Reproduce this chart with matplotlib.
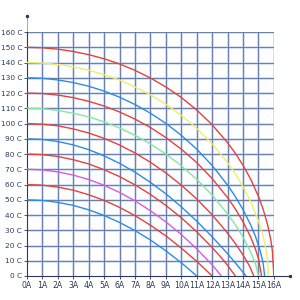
import matplotlib
matplotlib.use('Agg')
import matplotlib.pyplot as plt

# ---- data (current in A, temperature in C) ----
x_ticks = list(range(0, 17))
x_labels = [f"{v}A" for v in x_ticks]
y_ticks = list(range(0, 161, 10))
y_labels = [f"{v} C" for v in y_ticks]

cur_50 = [0, 1, 2, 3, 4, 5, 6, 7, 8, 9, 10, 11]
tmp_50 = [50, 49.6, 48.3, 46.3, 43.4, 39.7, 35.1, 29.8, 23.6, 16.5, 8.7, 0]

cur_60 = [0, 1, 2, 3, 4, 5, 6, 7, 8, 9, 10, 11, 12]
tmp_60 = [60, 59.6, 58.3, 56.3, 53.3, 49.6, 45.0, 39.6, 33.3, 26.3, 18.3, 9.6, 0]

cur_70 = [0, 1, 2, 3, 4, 5, 6, 7, 8, 9, 10, 11, 12, 12.6]
tmp_70 = [70, 69.6, 68.3, 66.2, 63.3, 59.5, 54.8, 49.3, 42.8, 35.5, 27.2, 17.8, 7.3, 0]

cur_80 = [0, 1, 2, 3, 4, 5, 6, 7, 8, 9, 10, 11, 12, 12.5, 13, 13.5]
tmp_80 = [80, 79.6, 78.4, 76.3, 73.5, 69.7, 65.2, 59.8, 53.5, 46.3, 38.2, 29.0, 18.7, 13.1, 7.0, 0]

cur_90 = [0, 1, 2, 3, 4, 5, 6, 7, 8, 9, 10, 11, 12, 13, 13.6, 14.2]
tmp_90 = [90, 89.6, 88.2, 86.0, 82.9, 78.8, 73.9, 68.1, 61.4, 53.9, 45.4, 36.0, 25.7, 14.6, 7.4, 0]

cur_100 = [0, 1, 2, 3, 4, 5, 6, 7, 8, 9, 10, 11, 12, 13, 13.5, 14, 14.4, 14.7]
tmp_100 = [100, 99.6, 98.5, 96.5, 93.8, 90.3, 85.9, 80.7, 74.6, 67.6, 59.6, 50.5, 40.1, 28.1, 21.3, 13.8, 6.9, 0]

cur_110 = [0, 1, 2, 3, 4, 5, 6, 7, 8, 9, 10, 11, 12, 13, 13.5, 14, 14.5, 14.8, 15]
tmp_110 = [110, 109.7, 108.6, 106.8, 104.4, 101.1, 97.1, 92.3, 86.6, 80.0, 72.3, 63.4, 53.0, 40.7, 33.6, 25.5, 15.7, 8.2, 0]

cur_120 = [0, 1, 2, 3, 4, 5, 6, 7, 8, 9, 10, 11, 12, 13, 13.5, 14, 14.5, 14.8, 15, 15.2]
tmp_120 = [120, 119.7, 118.7, 117.0, 114.6, 111.5, 107.6, 102.9, 97.4, 90.8, 83.2, 74.4, 63.9, 51.4, 44.0, 35.6, 25.4, 17.8, 11.4, 0]

cur_130 = [0, 1, 2, 3, 4, 5, 6, 7, 8, 9, 10, 11, 12, 13, 13.5, 14, 14.5, 14.8, 15.1, 15.3, 15.4]
tmp_130 = [130, 129.7, 128.6, 126.9, 124.5, 121.3, 117.3, 112.5, 106.8, 100.1, 92.3, 83.2, 72.5, 59.6, 52.1, 43.5, 33.4, 26.1, 17.0, 8.6, 0]

cur_140 = [0, 1, 2, 3, 4, 5, 6, 7, 8, 9, 10, 11, 12, 13, 13.5, 14, 14.5, 15, 15.3, 15.5, 15.6, 15.65]
tmp_140 = [140, 139.7, 138.8, 137.2, 135.0, 132.1, 128.5, 124.1, 118.9, 112.7, 105.4, 96.9, 86.7, 74.3, 67.0, 58.6, 48.7, 36.1, 26.0, 16.5, 9.1, 0]

cur_150 = [0, 1, 2, 3, 4, 5, 6, 7, 8, 9, 10, 11, 12, 13, 13.5, 14, 14.5, 15, 15.3, 15.6, 15.8, 15.9, 16]
tmp_150 = [150, 149.7, 148.8, 147.3, 145.2, 142.5, 139.1, 134.9, 129.9, 124.0, 117.1, 108.9, 99.2, 87.4, 80.5, 72.6, 63.4, 52.2, 43.9, 33.3, 23.6, 16.7, 0]

RED = '#e5413c'
BLUE = '#2c8be6'
YELLOW = '#f2ec6a'
GREEN = '#86e6a0'
MAGENTA = '#d95ae0'

curves = [
    (cur_50, tmp_50, BLUE),
    (cur_60, tmp_60, RED),
    (cur_70, tmp_70, MAGENTA),
    (cur_80, tmp_80, RED),
    (cur_90, tmp_90, BLUE),
    (cur_100, tmp_100, RED),
    (cur_110, tmp_110, GREEN),
    (cur_120, tmp_120, RED),
    (cur_130, tmp_130, BLUE),
    (cur_140, tmp_140, YELLOW),
    (cur_150, tmp_150, RED),
]

fig = plt.figure(figsize=(3, 3), dpi=100)
fig.patch.set_facecolor('white')
ax = fig.add_axes([0.09, 0.08, 0.823, 0.813])
ax.set_xlim(0, 16)
ax.set_ylim(0, 160)

# grid: light-blue halo with navy core
for v in x_ticks[1:]:
    ax.axvline(v, color='#c8d7ec', lw=1.8, zorder=1)
    ax.axvline(v, color='#50699a', lw=0.55, zorder=1.1)
for v in y_ticks[1:]:
    ax.axhline(v, color='#c8d7ec', lw=1.8, zorder=1)
    ax.axhline(v, color='#50699a', lw=0.55, zorder=1.1)

for cx, cy, col in curves:
    ax.plot(cx, cy, color=col, lw=1.0, zorder=3, solid_capstyle='butt')

for s in ['top', 'right']:
    ax.spines[s].set_visible(False)
ax.spines['left'].set_color('#2b3a5a')
ax.spines['bottom'].set_color('#2b3a5a')
ax.spines['left'].set_linewidth(0.8)
ax.spines['bottom'].set_linewidth(0.8)

# extended axis lines with small end marks
ax.plot([0, 0], [1, 1.066], transform=ax.transAxes, color='#7d8aa5', lw=0.5, clip_on=False)
ax.plot([0], [1.066], 'o', ms=1.5, color='#2b3a5a', transform=ax.transAxes, clip_on=False)
ax.plot([1, 1.065], [0, 0], transform=ax.transAxes, color='#2b3a5a', lw=0.8, clip_on=False)
ax.plot([1.065], [0], 's', ms=1.3, color='#2b3a5a', transform=ax.transAxes, clip_on=False)

fam = ['Liberation Sans Narrow', 'DejaVu Sans']
ax.set_xticks(x_ticks)
ax.set_xticklabels(x_labels, fontsize=5.6, color='#2b3a5a', family=fam)
ax.set_yticks(y_ticks)
ax.set_yticklabels(y_labels, fontsize=5.3, color='#2b3a5a', family=fam)
ax.tick_params(axis='both', length=2, width=0.6, color='#2b3a5a', pad=1.5)

fig.savefig('out.png', dpi=100, facecolor='white')
